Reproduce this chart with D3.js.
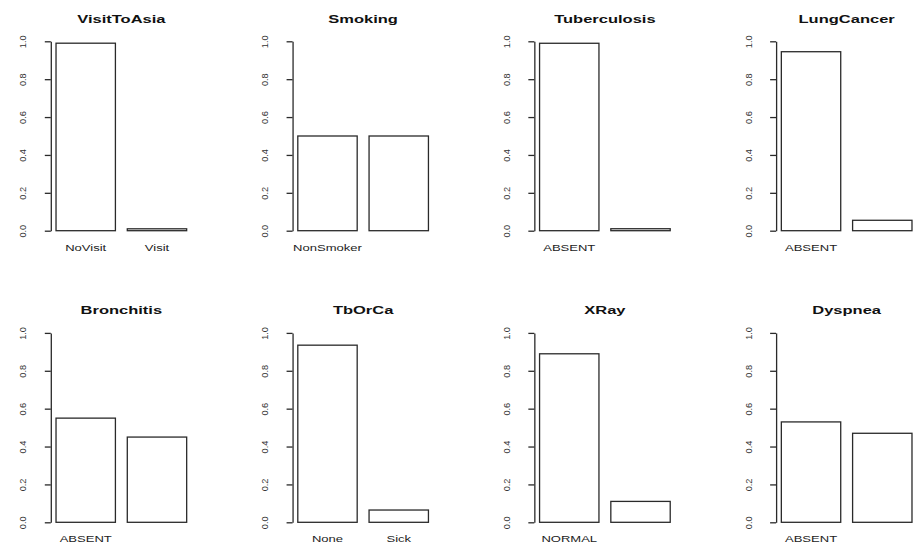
<!DOCTYPE html>
<html>
<head>
<meta charset="utf-8">
<script src="https://cdn.jsdelivr.net/npm/d3@7/dist/d3.min.js"></script>
<style>
  html, body { margin: 0; padding: 0; background: #fff; }
  svg { display: block; }
  text { font-family: "Liberation Sans", Arial, Helvetica, sans-serif; }
</style>
</head>
<body>
<svg id="chart" width="922" height="549"></svg>
<script>
// Marginal probabilities of the Asia (chest clinic) network nodes
const variables = ["VisitToAsia", "Smoking", "Tuberculosis", "LungCancer",
                   "Bronchitis", "TbOrCa", "XRay", "Dyspnea"];
const states = [
  ["NoVisit", "Visit"],
  ["NonSmoker", "Smoker"],
  ["ABSENT", "PRESENT"],
  ["ABSENT", "PRESENT"],
  ["ABSENT", "PRESENT"],
  ["None", "Sick"],
  ["NORMAL", "ABNORMAL"],
  ["ABSENT", "PRESENT"]
];
const probabilities = [
  [0.99, 0.01],
  [0.50, 0.50],
  [0.9896, 0.0104],
  [0.945, 0.055],
  [0.55, 0.45],
  [0.9352, 0.0648],
  [0.8897, 0.1103],
  [0.53, 0.47]
];
const yTicks = [0, 0.2, 0.4, 0.6, 0.8, 1.0];

// Panel grid (2 rows x 4 columns)
const nCols = 4;
const cellW = 241.77, cellH = 291.6;
const plotLeft = 50.8, plotWidth = 141.1;
const yZero = 230.7, yOne = 41.3;
const titleY = 22.6, labelY = 250.8;
const barSpace = 0.2, barWidth = 1;
const titleScaleX = 1.5, labelScaleX = 1.45;
const labelFont = 9;

const svg = d3.select("#chart");

variables.forEach((name, i) => {
  const col = i % nCols, row = Math.floor(i / nCols);
  const g = svg.append("g")
    .attr("transform", `translate(${col * cellW},${row * cellH})`);

  const vals = probabilities[i];
  const n = vals.length;
  // bar layout in user units, padded 4% on each side
  const lo = barSpace, hi = n * (barWidth + barSpace);
  const pad = 0.04 * (hi - lo);
  const x = d3.scaleLinear().domain([lo - pad, hi + pad])
    .range([plotLeft, plotLeft + plotWidth]);
  const y = d3.scaleLinear().domain([0, 1]).range([yZero, yOne]);

  const bars = vals.map((v, j) => ({
    v, state: states[i][j],
    x0: barSpace + j * (barWidth + barSpace)
  }));

  g.selectAll("rect.bar").data(bars).join("rect")
    .attr("class", "bar")
    .attr("x", d => x(d.x0))
    .attr("width", d => x(d.x0 + barWidth) - x(d.x0))
    .attr("y", d => y(d.v))
    .attr("height", d => y(0) - y(d.v))
    .attr("fill", "#fff")
    .attr("stroke", "#2a2a2a")
    .attr("stroke-width", 1.3);

  // y axis, labels parallel to the axis
  const axis = g.append("g")
    .attr("transform", `translate(${x(lo - pad)},0)`)
    .call(d3.axisLeft(y).tickValues(yTicks).tickFormat(d3.format(".1f"))
      .tickSize(6).tickSizeOuter(0));
  axis.select(".domain").attr("stroke", "#2a2a2a").attr("stroke-width", 1.3);
  axis.selectAll(".tick line").attr("stroke", "#2a2a2a").attr("stroke-width", 1.3);
  axis.selectAll(".tick text")
    .attr("x", null).attr("dy", null)
    .attr("transform", "translate(-24.5,0) rotate(-90)")
    .attr("text-anchor", "middle")
    .attr("fill", "#333")
    .style("font-family", "'Liberation Sans', Arial, sans-serif")
    .style("font-size", "9.2px");

  // title
  g.append("text")
    .attr("transform", `translate(${x((lo + hi) / 2)},${titleY}) scale(${titleScaleX},1)`)
    .attr("text-anchor", "middle")
    .attr("font-weight", "bold")
    .attr("font-size", 11)
    .attr("fill", "#111")
    .text(name);

  // category names, skipped where they would collide with the previous one
  const mProbe = g.append("text").attr("font-size", labelFont).text("m");
  const gap = 2 * mProbe.node().getComputedTextLength() * labelScaleX;
  mProbe.remove();
  let lastRight = -Infinity;
  bars.forEach(d => {
    const cx = x(d.x0 + barWidth / 2);
    const t = g.append("text")
      .attr("transform", `translate(${cx},${labelY}) scale(${labelScaleX},1)`)
      .attr("text-anchor", "middle")
      .attr("font-size", labelFont)
      .attr("fill", "#222")
      .text(d.state);
    const w = t.node().getComputedTextLength() * labelScaleX;
    if (cx - w / 2 < lastRight + gap) {
      t.remove();
    } else {
      lastRight = cx + w / 2;
    }
  });
});
</script>
</body>
</html>
